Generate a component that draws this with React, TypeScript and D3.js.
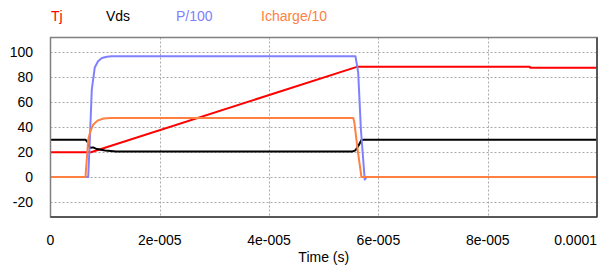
import React from 'react';
import * as d3 from 'd3';

const W = 598;
const H = 268;
const PLOT = { left: 50.5, right: 597, top: 37.5, bottom: 217 };

// time in seconds, values as plotted
const TJ_T = [0, 7.4e-6, 56.2e-6, 87.7e-6, 87.8e-6, 100e-6];
const TJ_V = [20, 20, 88.6, 88.6, 87.8, 87.8];

const VDS_T = [0, 6.4e-6, 6.8e-6, 7.2e-6, 7.8e-6, 8.5e-6, 10e-6, 12e-6, 55.3e-6, 55.8e-6, 56.4e-6, 56.9e-6, 57.3e-6, 100e-6];
const VDS_V = [30, 30, 28, 23.5, 23.8, 22.5, 21.3, 20.6, 20.6, 21.5, 25.5, 29.8, 30, 30];

const P_T = [0, 6.9e-6, 7.2e-6, 7.55e-6, 8.1e-6, 8.7e-6, 9.4e-6, 10.3e-6, 11.2e-6, 55.8e-6, 56.3e-6, 56.8e-6, 57.5e-6, 57.8e-6, 100e-6];
const P_V = [0, 0, 30, 70, 88, 93, 95.5, 96.5, 97, 97, 84, 38, -2, 0, 0];

const IC_T = [0, 6.4e-6, 6.6e-6, 6.9e-6, 7.3e-6, 7.8e-6, 8.6e-6, 9.7e-6, 11e-6, 55.4e-6, 55.6e-6, 56.2e-6, 56.9e-6, 100e-6];
const IC_V = [0, 0, 12, 30, 37, 42, 45.3, 47, 47.5, 47.5, 44, 22, 0, 0];

const SERIES = [
  { name: 'Tj', t: TJ_T, v: TJ_V, color: '#ff0000', lx: 51 },
  { name: 'Vds', t: VDS_T, v: VDS_V, color: '#000000', lx: 106 },
  { name: 'P/100', t: P_T, v: P_V, color: '#8080ff', lx: 176 },
  { name: 'Icharge/10', t: IC_T, v: IC_V, color: '#ff8040', lx: 261 },
];

const X_TICKS = [0, 2e-5, 4e-5, 6e-5, 8e-5, 1e-4];
const X_LABELS = ['0', '2e-005', '4e-005', '6e-005', '8e-005', '0.0001'];
const Y_TICKS = [-20, 0, 20, 40, 60, 80, 100];

const FONT = '"Liberation Sans", Arial, sans-serif';

export default function App() {
  const x = d3.scaleLinear().domain([0, 1e-4]).range([PLOT.left, PLOT.right]);
  const y = d3.scaleLinear().domain([-32, 112]).range([PLOT.bottom, PLOT.top]);

  const line = d3
    .line<[number, number]>()
    .x((d) => x(d[0]))
    .y((d) => y(d[1]));

  return (
    <svg
      width={W}
      height={H}
      style={{ position: 'absolute', left: 0, top: 0, background: '#fff' }}
      fontFamily={FONT}
      fontSize={14}
    >
      <defs>
        <clipPath id="plot">
          <rect x={PLOT.left} y={PLOT.top} width={PLOT.right - PLOT.left} height={PLOT.bottom - PLOT.top} />
        </clipPath>
      </defs>

      {/* legend */}
      {SERIES.map((s) => (
        <text key={s.name} x={s.lx} y={21} fill={s.color}>
          {s.name}
        </text>
      ))}

      {/* grid */}
      {Y_TICKS.map((t) => (
        <line
          key={'gy' + t}
          x1={PLOT.left}
          x2={PLOT.right}
          y1={Math.round(y(t)) + 0.5}
          y2={Math.round(y(t)) + 0.5}
          stroke="#a8a8a8"
          strokeDasharray="2,2"
        />
      ))}
      {X_TICKS.slice(1, -1).map((t) => (
        <line
          key={'gx' + t}
          x1={Math.round(x(t)) + 0.5}
          x2={Math.round(x(t)) + 0.5}
          y1={PLOT.top}
          y2={PLOT.bottom}
          stroke="#a8a8a8"
          strokeDasharray="2,2"
        />
      ))}

      {/* series */}
      <g clipPath="url(#plot)">
        {SERIES.map((s) => (
          <path
            key={s.name}
            d={line(s.t.map((t, i) => [t, s.v[i]] as [number, number])) ?? ''}
            fill="none"
            stroke={s.color}
            strokeWidth={2}
            strokeLinejoin="round"
          />
        ))}
      </g>

      {/* frame */}
      <rect
        x={PLOT.left}
        y={PLOT.top}
        width={PLOT.right - PLOT.left}
        height={PLOT.bottom - PLOT.top}
        fill="none"
        stroke="#808080"
        strokeWidth={1.5}
      />
      <line x1={PLOT.left} x2={PLOT.right} y1={PLOT.bottom} y2={PLOT.bottom} stroke="#404040" strokeWidth={1.5} />
      <line x1={PLOT.right} x2={PLOT.right} y1={PLOT.top} y2={PLOT.bottom} stroke="#404040" strokeWidth={1.5} />

      {/* y axis labels */}
      {Y_TICKS.map((t) => (
        <text key={'yl' + t} x={33} y={y(t) + 5} textAnchor="end" fill="#000">
          {t}
        </text>
      ))}

      {/* x axis labels */}
      {X_TICKS.map((t, i) => {
        const last = i === X_TICKS.length - 1;
        return (
          <text
            key={'xl' + t}
            x={last ? 597 : x(t)}
            y={245}
            textAnchor={last ? 'end' : 'middle'}
            fill="#000"
          >
            {X_LABELS[i]}
          </text>
        );
      })}
      <text x={(PLOT.left + PLOT.right) / 2} y={262} textAnchor="middle" fill="#000">
        Time (s)
      </text>
    </svg>
  );
}
